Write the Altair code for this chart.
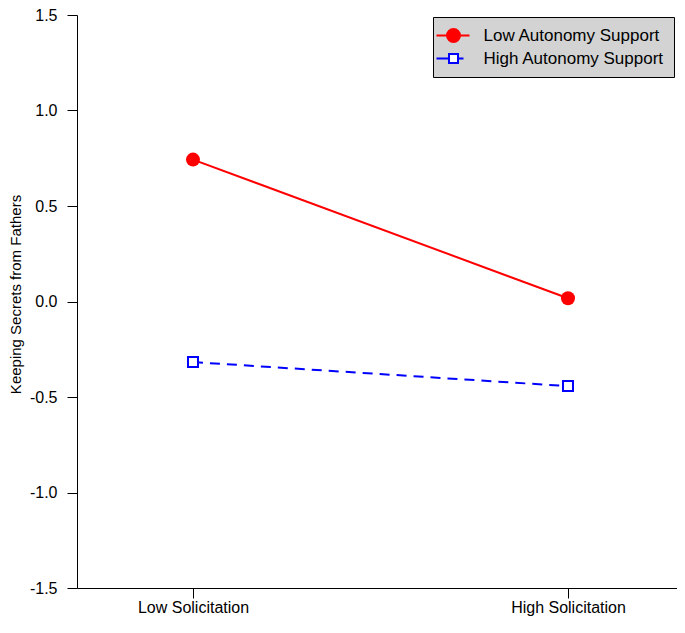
import altair as alt
import pandas as pd

# ---- data ----
solicitation = ["Low Solicitation", "High Solicitation"]
series_names = ["Low Autonomy Support", "High Autonomy Support"]
low_autonomy = [0.743, 0.017]
high_autonomy = [-0.317, -0.443]
y_ticks = [-1.5, -1.0, -0.5, 0.0, 0.5, 1.0, 1.5]

rows = []
for s, vals in zip(series_names, [low_autonomy, high_autonomy]):
    for i, (c, v) in enumerate(zip(solicitation, vals)):
        rows.append({"series": s, "solicitation": c, "pos": i, "secrets": v})
df = pd.DataFrame(rows)

FONT = "Liberation Sans"
RED = "#ff0000"
BLUE = "#0000ff"
MINUS = "\u2212"

PLOT_W = 600
PLOT_H = 573

x_label_expr = " : ".join(
    [f"datum.value == {i} ? '{c}'" for i, c in enumerate(solicitation[:-1])]
    + [f"'{solicitation[-1]}'"]
)

x_enc = alt.X(
    "pos:Q",
    scale=alt.Scale(domain=[-0.3093, 1.2907], nice=False, zero=False),
    axis=alt.Axis(
        title=None, values=list(range(len(solicitation))), labelExpr=x_label_expr,
        labelAngle=0, labelFontSize=16, labelFont=FONT,
        labelColor="black", tickSize=10, tickColor="black", tickWidth=1,
        domainColor="black", domainWidth=1, labelPadding=1, grid=False,
    ),
)
y_enc = alt.Y(
    "secrets:Q",
    scale=alt.Scale(domain=[-1.5, 1.5], nice=False, zero=False),
    axis=alt.Axis(
        title="Keeping Secrets from Fathers", values=y_ticks,
        labelExpr=f"replace(format(datum.value, '.1f'), '{MINUS}', '-')",
        labelFontSize=16, labelFont=FONT, labelColor="black",
        tickSize=10, tickColor="black", tickWidth=1,
        domainColor="black", domainWidth=1, labelPadding=10, grid=False,
        titleFont=FONT, titleFontSize=15, titleFontWeight="normal",
        titleColor="black", titleAngle=-90, titleBaseline="top",
        titleAlign="center", titleX=-69, titleY=279,
    ),
)

base = alt.Chart(df).encode(x=x_enc, y=y_enc)

low_f = alt.datum.series == series_names[0]
high_f = alt.datum.series == series_names[1]

red_line = base.transform_filter(low_f).mark_line(color=RED, strokeWidth=2)
blue_line = base.transform_filter(high_f).mark_line(
    color=BLUE, strokeWidth=2, strokeDash=[10, 7]
)
red_pts = base.transform_filter(low_f).mark_point(
    shape="circle", filled=True, fill=RED, stroke=RED, strokeWidth=0,
    size=196, opacity=1,
)
blue_pts = base.transform_filter(high_f).mark_point(
    shape="square", filled=True, fill="white", stroke=BLUE, strokeWidth=2,
    size=100, opacity=1,
)

red_sym = "M-3.0,0H3.6M-0.9,0A1.3,1.3,0,1,0,1.7,0A1.3,1.3,0,1,0,-0.9,0Z"
blue_sym = "M-3.0,0H-0.5M1.3,0H2.4M-0.5,-0.9H1.3V0.9H-0.5Z"


def make_legend():
    return alt.Legend(
        title=None, orient="none", legendX=356, legendY=2,
        fillColor="#d3d3d3", strokeColor="black", padding=10,
        labelFont=FONT, labelFontSize=17, labelColor="black",
        labelLimit=400, labelOffset=23.5, rowPadding=3,
        symbolSize=100, symbolStrokeWidth=2, symbolOpacity=1,
    )


legend_layer = base.transform_filter("false").mark_point(
    filled=True, size=100, opacity=1, strokeWidth=2
).encode(
    fill=alt.Fill(
        "series:N",
        scale=alt.Scale(domain=series_names, range=[RED, "white"]),
        legend=make_legend(),
    ),
    stroke=alt.Stroke(
        "series:N",
        scale=alt.Scale(domain=series_names, range=[RED, BLUE]),
        legend=make_legend(),
    ),
    shape=alt.Shape(
        "series:N",
        scale=alt.Scale(domain=series_names, range=[red_sym, blue_sym]),
        legend=make_legend(),
    ),
)

chart = (
    alt.layer(red_line, blue_line, red_pts, blue_pts, legend_layer)
    .properties(
        width=PLOT_W, height=PLOT_H,
        autosize=alt.AutoSizeParams(type="none"),
        padding={"left": 69, "top": 7, "right": 0, "bottom": 28},
        background="white",
    )
    .configure_view(strokeWidth=0)
)

chart.save("out.html", embed_options={"renderer": "svg", "actions": False})
